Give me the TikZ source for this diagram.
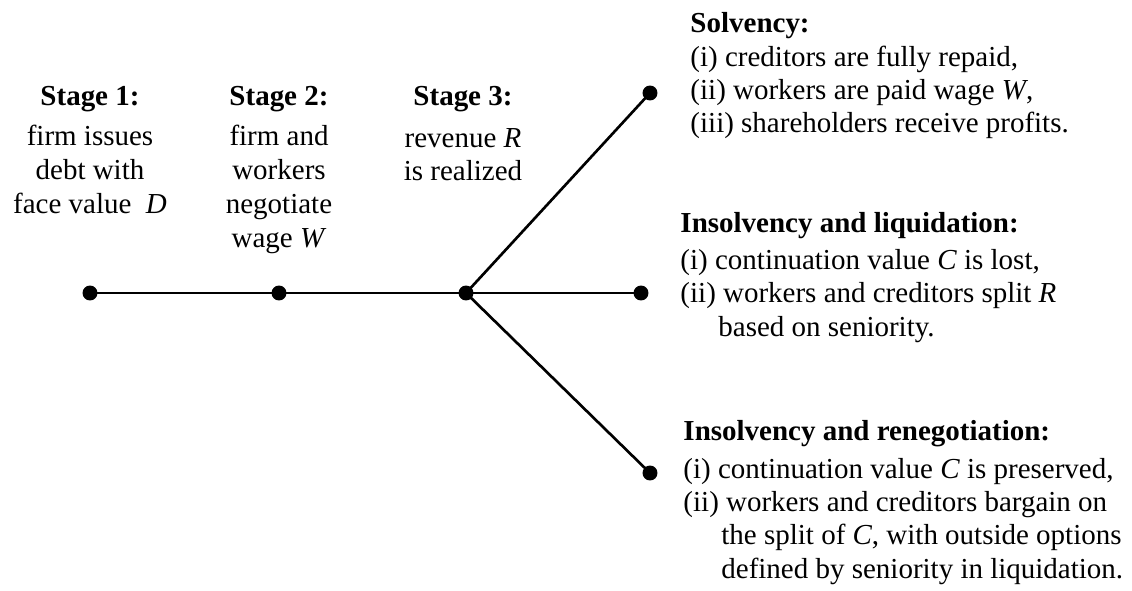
\documentclass[tikz,border=0pt,12pt]{standalone}
\usepackage{fontspec}
\setmainfont{Liberation Serif}
\tikzset{
        dot/.style={circle, fill=black, inner sep=0pt, minimum size=6.2pt},
        branch/.style={line width=1.1pt},
        stagehead/.style={anchor=base, inner sep=0pt, font=\fontsize{12}{14}\selectfont\bfseries},
        stagetext/.style={anchor=base, inner sep=0pt, align=center, font=\fontsize{12}{14.1}\selectfont},
        outhead/.style={anchor=base west, inner sep=0pt, font=\fontsize{12}{14}\selectfont\bfseries},
        outtext/.style={anchor=base west, inner sep=0pt, align=left, font=\fontsize{12}{13.8}\selectfont}
          }

\begin{document}
\begin{tikzpicture}[x=0.414pt, y=-0.414pt]
        \useasboundingbox (0,0) rectangle (1132,591);
        % time line
        \node[dot] (s1) at (90,293) {};
        \node[dot] (s2) at (279,293) {};
        \node[dot] (s3) at (466,293) {};
        \node[dot] (solv) at (650,93) {};
        \node[dot] (liq) at (641,293) {};
        \node[dot] (reneg) at (650,473) {};
        \draw[branch] (s1.center) -- (s2.center) -- (s3.center);
        \draw[branch] (s3.center) -- (solv.center);
        \draw[branch] (s3.center) -- (liq.center);
        \draw[branch] (s3.center) -- (reneg.center);
        % stages (text nodes sit on the baseline of their last line)
        \node[stagehead] (s1head) at (90,106) {Stage 1:};
        \node[stagetext] (s1text) at (90,214) {firm issues\\debt with\\face value~ \textit{D}};
        \node[stagehead] (s2head) at (279,106) {Stage 2:};
        \node[stagetext] (s2text) at (279,248) {firm and\\workers\\negotiate\\wage \textit{W}};
        \node[stagehead] (s3head) at (463,106) {Stage 3:};
        \node[stagetext, font=\fontsize{12}{13.8}\selectfont] (s3text) at (463,181) {revenue \textit{R}\\is realized};
        % outcomes
        \node[outhead] (solvhead) at (690,33) {Solvency:};
        \node[outtext] (solvtext) at (690,133) {(i) creditors are fully repaid,\\(ii) workers are paid wage \textit{W},\\(iii) shareholders receive profits.};
        \node[outhead] (liqhead) at (680,232) {Insolvency and liquidation:};
        \node[outtext] (liqtext) at (680,336) {(i) continuation value \textit{C} is lost,\\(ii) workers and creditors split \textit{R}\\\hspace*{15.7pt}based on seniority.};
        \node[outhead] (reneghead) at (683,440) {Insolvency and renegotiation:};
        \node[outtext] (renegtext) at (683,578) {(i) continuation value \textit{C} is preserved,\\(ii) workers and creditors bargain on\\\hspace*{15.7pt}the split of \textit{C}, with outside options\\\hspace*{15.7pt}defined by seniority in liquidation.};
      \end{tikzpicture}
\end{document}
